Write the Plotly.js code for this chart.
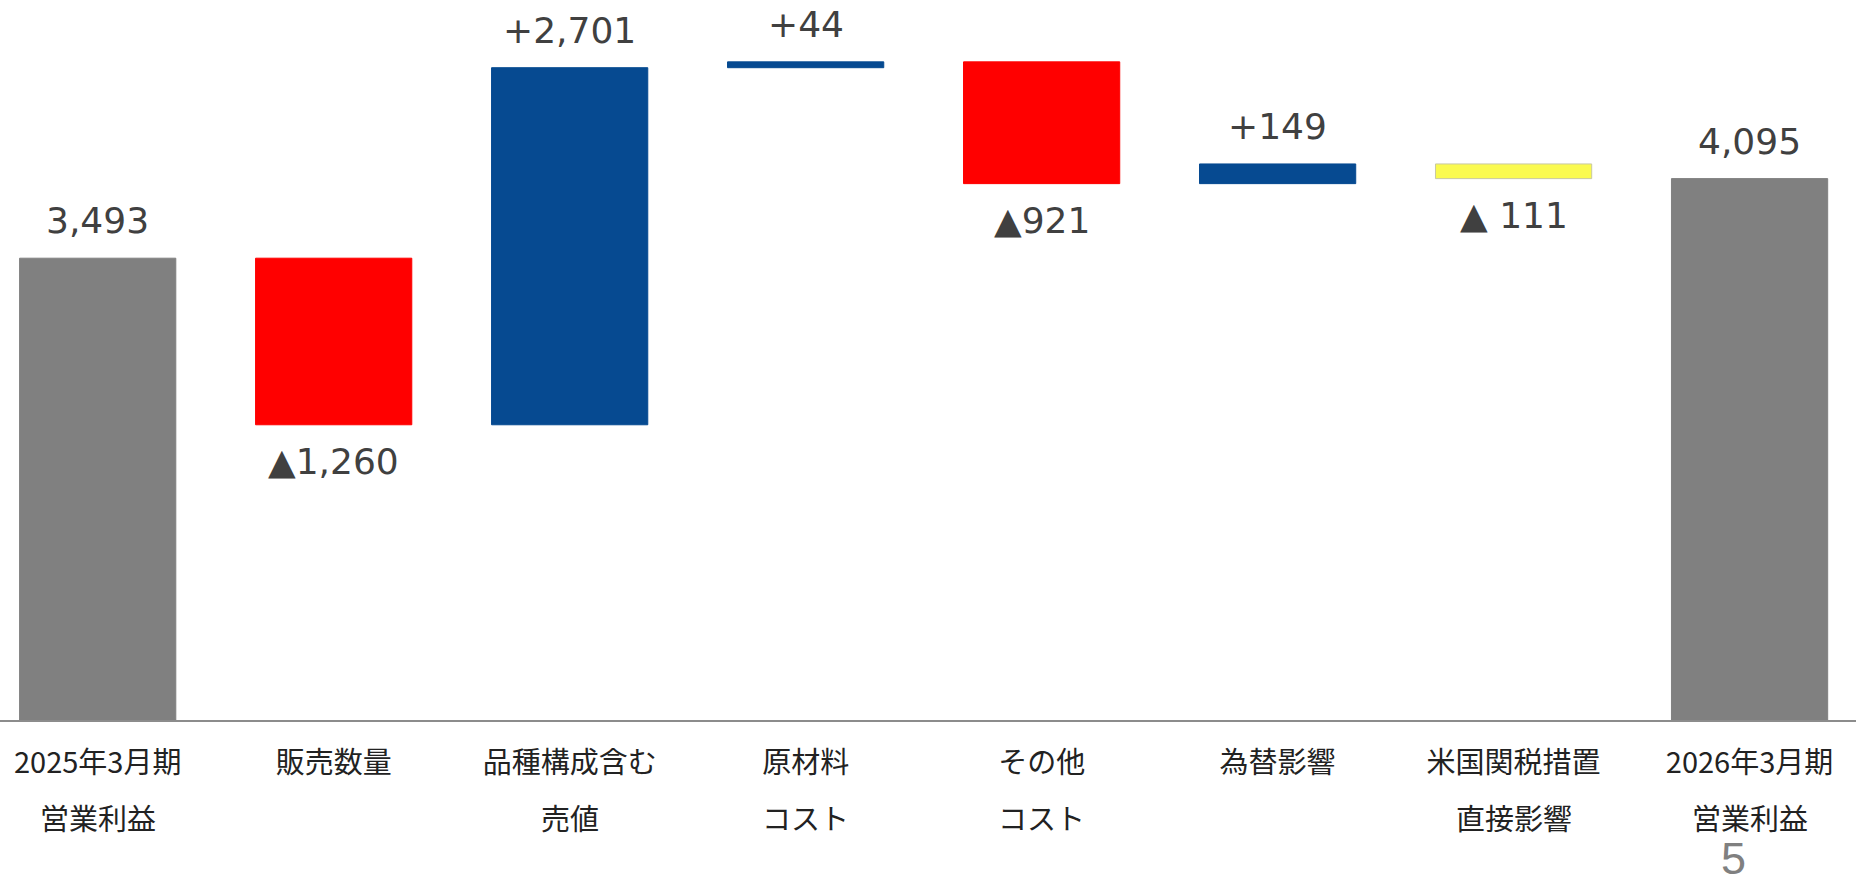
<!DOCTYPE html>
<html>
<head>
<meta charset="utf-8">
<script src="https://cdn.plot.ly/plotly-3.0.1.min.js"></script>
<style>html,body{margin:0;padding:0;background:#fff;}#chart{width:1856px;height:879px;}</style>
</head>
<body>
<div id="chart"></div>
<script>
// ---- data ----
const categoryLine1 = ['2025年3月期', '販売数量', '品種構成含む', '原材料', 'その他', '為替影響', '米国関税措置', '2026年3月期'];
const categoryLine2 = ['営業利益', '', '売値', 'コスト', 'コスト', '', '直接影響', '営業利益'];
const measures = ['total', 'relative', 'relative', 'relative', 'relative', 'relative', 'relative', 'total'];
const values = [3493, -1260, 2701, 44, -921, 149, -111, 4095];
const valueLabels = ['3,493', '▲1,260', '+2,701', '+44', '▲921', '+149', '▲ 111', '4,095'];
const pageNumber = '5';

// ---- styles ----
const barColors = ['#808080', '#FF0000', '#064A91', '#064A91', '#FF0000', '#064A91', '#FAFA50', '#808080'];
const barLines = ['#808080', '#FF0000', '#064A91', '#064A91', '#FF0000', '#064A91', '#C8C8A0', '#808080'];

// compute bar bases from the data
const xIdx = categoryLine1.map((_, i) => i);
const bases = [], heights = [];
let running = 0;
values.forEach((v, i) => {
  if (measures[i] === 'total') {
    bases.push(0); heights.push(v); running = v;
  } else {
    const start = running, end = running + v;
    bases.push(Math.min(start, end)); heights.push(Math.abs(v));
    running = end;
  }
});

const trace = {
  type: 'bar',
  x: xIdx,
  y: heights,
  base: bases,
  width: 0.662,
  marker: {color: barColors, line: {color: barLines, width: 1}},
  hoverinfo: 'skip'
};

const annotations = [];
values.forEach((v, i) => {
  const down = measures[i] !== 'total' && v < 0;
  const top = bases[i] + heights[i];
  const bottom = bases[i];
  annotations.push({
    x: i, y: down ? bottom : top, xref: 'x', yref: 'y',
    text: valueLabels[i], showarrow: false,
    yanchor: down ? 'top' : 'bottom',
    yshift: down ? -14 : 15,
    font: {family: 'DejaVu Sans', size: 36, color: '#404040'}
  });
  if (categoryLine2[i]) {
    annotations.push({
      x: i, y: 0, xref: 'x', yref: 'y',
      text: categoryLine2[i], showarrow: false,
      yanchor: 'middle', yshift: -97,
      font: {family: 'Noto Sans CJK JP', size: 29, color: '#222222'}
    });
  }
});
annotations.push({
  x: 1733 / 1856, y: 0, xref: 'paper', yref: 'paper', text: pageNumber, showarrow: false,
  xanchor: 'center', yanchor: 'bottom', yshift: -166,
  font: {family: 'Liberation Sans', size: 45, color: '#808080'}
});

const layout = {
  width: 1856, height: 879,
  margin: {l: 0, r: 0, t: 0, b: 159},
  paper_bgcolor: '#ffffff', plot_bgcolor: '#ffffff',
  showlegend: false,
  xaxis: {
    range: [-0.414, 7.451],
    tickmode: 'array', tickvals: xIdx, ticktext: categoryLine1,
    showline: true, linecolor: '#8c8c8c', linewidth: 2,
    showgrid: false, zeroline: false, ticks: '',
    ticklabelstandoff: 16,
    tickfont: {family: 'Noto Sans CJK JP', size: 29, color: '#222222'},
    fixedrange: true
  },
  yaxis: {
    range: [0, 5446], visible: false, showgrid: false, zeroline: false, fixedrange: true
  },
  annotations: annotations
};

Plotly.newPlot('chart', [trace], layout, {displayModeBar: false, staticPlot: true});
</script>
</body>
</html>
